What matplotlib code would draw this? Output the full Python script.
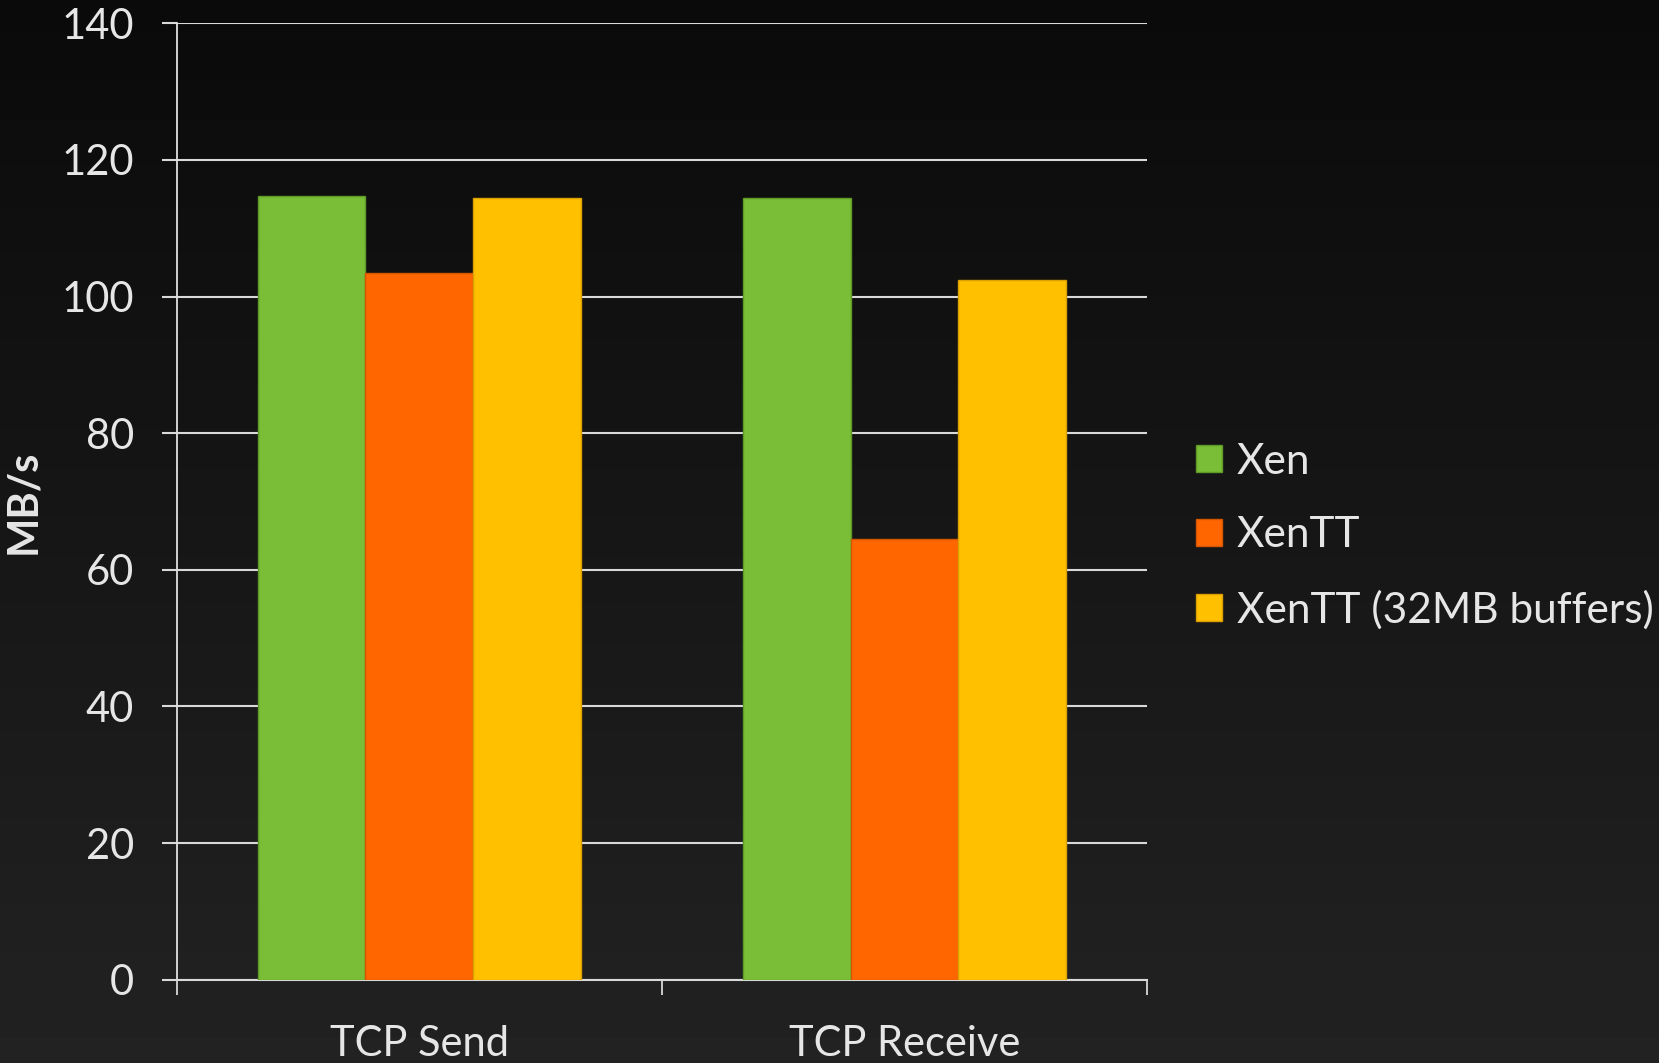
import matplotlib.pyplot as plt
import numpy as np

categories = ['TCP Send', 'TCP Receive']
series_names = ['Xen', 'XenTT', 'XenTT (32MB buffers)']
xen = [114.8, 114.5]
xentt = [103.4, 64.5]
xentt_32mb = [114.5, 102.5]
colors = ['#7abd36', '#ff6600', '#ffc000']
edges = ['#5e9a26', '#d45500', '#d9a000']

plt.rcParams['font.family'] = ['Lato', 'DejaVu Sans']

fig = plt.figure(figsize=(16.59, 10.63), dpi=100)

# dark vertical gradient background
bg = fig.add_axes([0, 0, 1, 1], zorder=-10)
grad = np.linspace(0.04, 0.135, 256).reshape(-1, 1)
bg.imshow(grad, aspect='auto', cmap='gray', vmin=0, vmax=1, extent=[0, 1, 1, 0])
bg.axis('off')

ax = fig.add_axes([0.1065, 0.0784, 0.5849, 0.8996])
ax.patch.set_alpha(0)

x = np.arange(len(categories))
w = 0.222
for i, vals in enumerate([xen, xentt, xentt_32mb]):
	ax.bar(x + (i - 1) * w, vals, w, color=colors[i], edgecolor=edges[i],
		linewidth=1, label=series_names[i], zorder=3)

ax.set_ylim(0, 140)
ax.set_xlim(-0.5, 1.5)
ax.set_yticks(np.arange(0, 141, 20))
ax.yaxis.grid(True, color='#d9d9d9', linewidth=1.5, zorder=0)
for s in ['top', 'right']:
	ax.spines[s].set_visible(False)
ax.spines['left'].set_color('#e0e0e0')
ax.spines['left'].set_linewidth(1.3)
ax.spines['bottom'].set_color('#d9d9d9')
ax.spines['bottom'].set_linewidth(1.5)

ax.tick_params(axis='y', colors='#d9d9d9', length=10.8, width=1.5, pad=20,
	labelsize=30, labelcolor='#e6e6e6')
ax.set_xticks([-0.5, 0.5, 1.5])
ax.set_xticklabels([])
ax.tick_params(axis='x', which='major', colors='#d9d9d9', length=10.5, width=1.3)
ax.set_xticks(x, minor=True)
ax.set_xticklabels(categories, minor=True)
ax.tick_params(axis='x', which='minor', length=0, pad=33, labelsize=30,
	labelcolor='#e6e6e6')

ax.set_ylabel('MB/s', fontsize=30, fontweight='bold', color='#e6e6e6')
ax.yaxis.set_label_coords(-0.139, 0.5)

ax.legend(loc='center left', bbox_to_anchor=(0.7207, 0.4958),
	bbox_transform=fig.transFigure, frameon=False, fontsize=30.5,
	handlelength=0.62, handleheight=0.62, handletextpad=0.35,
	labelspacing=0.84, borderpad=0, borderaxespad=0, labelcolor='#e6e6e6')

plt.savefig('out.png', dpi=100)
